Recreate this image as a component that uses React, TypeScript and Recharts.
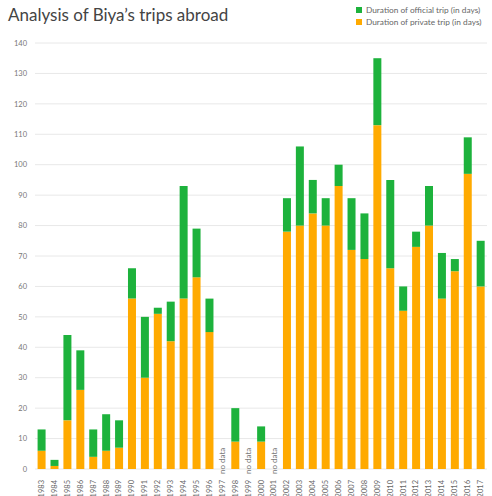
import { Bar, BarChart, CartesianGrid, XAxis, YAxis } from "recharts";

const years = [
  "1983", "1984", "1985", "1986", "1987", "1988", "1989", "1990", "1991", "1992",
  "1993", "1994", "1995", "1996", "1997", "1998", "1999", "2000", "2001", "2002",
  "2003", "2004", "2005", "2006", "2007", "2008", "2009", "2010", "2011", "2012",
  "2013", "2014", "2015", "2016", "2017",
];

// days spent on private trips (null = no data for that year)
const privateDays = [
  6, 1, 16, 26, 4, 6, 7, 56, 30, 51,
  42, 56, 63, 45, null, 9, null, 9, null, 78,
  80, 84, 80, 93, 72, 69, 113, 66, 52, 73,
  80, 56, 65, 97, 60,
];

// days spent on official trips
const officialDays = [
  7, 2, 28, 13, 9, 12, 9, 10, 20, 2,
  13, 37, 16, 11, null, 11, null, 5, null, 11,
  26, 11, 9, 7, 17, 15, 22, 29, 8, 5,
  13, 15, 4, 12, 15,
];

const yTicks = [0, 10, 20, 30, 40, 50, 60, 70, 80, 90, 100, 110, 120, 130, 140];

const GREEN = "#1db23c";
const ORANGE = "#ffaa00";
const FONT = "Lato, 'Open Sans', sans-serif";

const data = years.map((year, i) => ({
  year,
  private: privateDays[i],
  official: officialDays[i],
  noData: privateDays[i] === null,
}));

function YearTick(props: any) {
  const { x, y, payload } = props;
  const row = data.find((d) => d.year === payload.value);
  return (
    <g>
      <text
        x={x}
        y={y + 3}
        transform={`rotate(-90 ${x} ${y + 3})`}
        textAnchor="end"
        dominantBaseline="central"
        fontSize={7.5}
        fill="#666"
        fontFamily={FONT}
      >
        {payload.value}
      </text>
      {row?.noData && (
        <text
          x={x}
          y={y - 3}
          transform={`rotate(-90 ${x} ${y - 3})`}
          textAnchor="start"
          dominantBaseline="central"
          fontSize={8}
          fill="#777"
          fontFamily={FONT}
        >
          no data
        </text>
      )}
    </g>
  );
}

function LegendRow({ color, label }: { color: string; label: string }) {
  return (
    <div style={{ display: "flex", alignItems: "center", height: 12 }}>
      <div style={{ width: 6, height: 6, background: color, marginRight: 4 }} />
      <span style={{ fontSize: 8.3, color: "#666" }}>{label}</span>
    </div>
  );
}

export default function App() {
  return (
    <div
      style={{
        position: "absolute",
        left: 0,
        top: 0,
        width: 492,
        height: 496,
        background: "#fff",
        fontFamily: FONT,
      }}
    >
      <div
        style={{
          position: "absolute",
          left: 8,
          top: 4,
          fontSize: 17,
          fontWeight: 400,
          color: "#444",
        }}
      >
        Analysis of Biya’s trips abroad
      </div>
      <div style={{ position: "absolute", left: 356, top: 4 }}>
        <LegendRow color={GREEN} label="Duration of official trip (in days)" />
        <LegendRow color={ORANGE} label="Duration of private trip (in days)" />
      </div>
      <BarChart
        width={492}
        height={496}
        data={data}
        margin={{ top: 43, right: 5, left: 0, bottom: 0 }}
        barCategoryGap="20%"
      >
        <CartesianGrid vertical={false} stroke="#e8e8e8" />
        <XAxis
          dataKey="year"
          interval={0}
          height={27}
          axisLine={false}
          tickLine={false}
          tick={<YearTick />}
        />
        <YAxis
          width={35}
          domain={[0, 140]}
          ticks={yTicks}
          axisLine={false}
          tickLine={false}
          tick={{ fontSize: 7.5, fill: "#777", fontFamily: FONT }}
        />
        <Bar dataKey="private" stackId="a" fill={ORANGE} isAnimationActive={false} />
        <Bar dataKey="official" stackId="a" fill={GREEN} isAnimationActive={false} />
      </BarChart>
    </div>
  );
}
